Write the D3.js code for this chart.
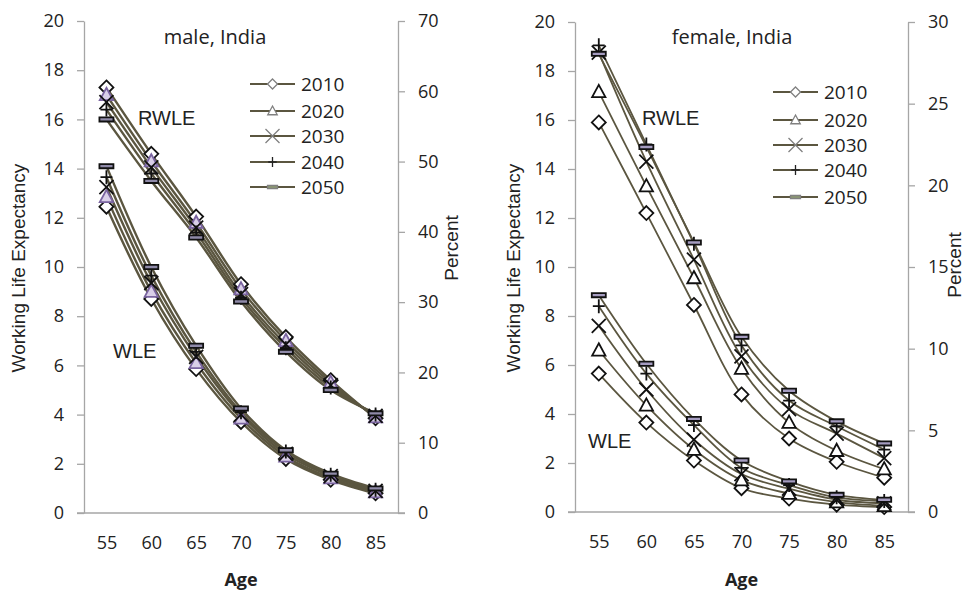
<!DOCTYPE html>
<html>
<head>
<meta charset="utf-8">
<script src="https://cdn.jsdelivr.net/npm/d3@7"></script>
<style>
  body { margin: 0; background: #fff; }
  svg text { font-family: "Open Sans", sans-serif; fill: #222; }
  .arial { font-family: "Liberation Sans", Arial, sans-serif !important; }
</style>
</head>
<body>
<div id="chart"></div>
<script>
// categories
var ages = [55, 60, 65, 70, 75, 80, 85];
var years = ["2010", "2020", "2030", "2040", "2050"];

// male, India (one row per year)
var maleRWLE = [
  [17.3, 14.6, 12.05, 9.3, 7.15, 5.4, 3.85],
  [17.0, 14.3, 11.8, 9.1, 7.0, 5.3, 3.9],
  [16.7, 14.05, 11.6, 8.9, 6.85, 5.2, 3.95],
  [16.4, 13.8, 11.4, 8.75, 6.7, 5.1, 4.0],
  [16.0, 13.5, 11.2, 8.6, 6.55, 5.0, 4.05]
];
var maleWLE = [
  [12.45, 8.7, 5.85, 3.7, 2.2, 1.35, 0.8],
  [12.85, 9.0, 6.1, 3.85, 2.3, 1.42, 0.85],
  [13.25, 9.35, 6.35, 4.0, 2.4, 1.5, 0.9],
  [13.65, 9.65, 6.55, 4.1, 2.5, 1.55, 0.95],
  [14.1, 10.0, 6.8, 4.25, 2.55, 1.6, 1.0]
];

// female, India
var femaleRWLE = [
  [15.9, 12.2, 8.45, 4.8, 3.0, 2.05, 1.4],
  [17.15, 13.3, 9.55, 5.85, 3.65, 2.5, 1.75],
  [18.75, 14.3, 10.3, 6.35, 4.2, 3.2, 2.2],
  [19.05, 15.0, 10.95, 6.8, 4.55, 3.5, 2.55],
  [18.7, 14.9, 11.0, 7.15, 4.95, 3.7, 2.8]
];
var femaleWLE = [
  [5.65, 3.65, 2.1, 0.97, 0.55, 0.3, 0.2],
  [6.6, 4.35, 2.55, 1.3, 0.75, 0.4, 0.25],
  [7.6, 5.0, 2.95, 1.55, 0.95, 0.5, 0.35],
  [8.4, 5.65, 3.55, 1.8, 1.1, 0.6, 0.45],
  [8.85, 6.05, 3.8, 2.1, 1.25, 0.7, 0.5]
];

var leftTicks = [0, 2, 4, 6, 8, 10, 12, 14, 16, 18, 20];
var maleRightTicks = [0, 10, 20, 30, 40, 50, 60, 70];
var femaleRightTicks = [0, 5, 10, 15, 20, 25, 30];

var W = 967, H = 590;
var lineColor = "#5b5640";
var axisColor = "#a6a6a6";

var svg = d3.select("#chart").append("svg")
    .attr("width", W)
    .attr("height", H);

// marker shapes, keyed by series index
function markerPath(i, s) {
  if (i === 0) return `M0,${-s}L${s},0L0,${s}L${-s},0Z`;
  if (i === 1) return `M0,${-s}L${s * 0.95},${s * 0.75}L${-s * 0.95},${s * 0.75}Z`;
  if (i === 2) return `M${-s},${-s}L${s},${s}M${-s},${s}L${s},${-s}`;
  if (i === 3) return `M${-s * 0.85},0L${s * 0.85},0M0,${-s}L0,${s}`;
  return `M${-s},${-s * 0.3}L${s},${-s * 0.3}L${s},${s * 0.3}L${-s},${s * 0.3}Z`;
}

function drawPanel(cfg) {
  var x = d3.scalePoint().domain(ages).range([cfg.x0, cfg.x1]).padding(0.5);
  var y = d3.scaleLinear().domain([0, 20]).range([cfg.yb, cfg.yt]);
  var y2 = d3.scaleLinear().domain([0, cfg.rightMax]).range([cfg.yb, cfg.yt]);

  var g = svg.append("g");

  // left axis
  var ax = g.append("g")
      .attr("transform", `translate(${cfg.x0},0)`)
      .call(d3.axisLeft(y).tickValues(leftTicks).tickSize(7).tickSizeOuter(0).tickPadding(13));
  // right axis
  var ax2 = g.append("g")
      .attr("transform", `translate(${cfg.x1},0)`)
      .call(d3.axisRight(y2).tickValues(cfg.rightTicks).tickSize(7).tickSizeOuter(0).tickPadding(13));
  // bottom axis
  var ax3 = g.append("g")
      .attr("transform", `translate(0,${cfg.yb})`)
      .call(d3.axisBottom(x).tickSize(0).tickSizeOuter(0).tickPadding(23));

  [ax, ax2, ax3].forEach(a => {
    a.select(".domain").attr("stroke", axisColor).attr("stroke-width", 1.3);
    a.selectAll(".tick line").attr("stroke", axisColor).attr("stroke-width", 1.3);
    a.selectAll(".tick text").style("font-size", "18px").attr("fill", "#222");
  });
  ax3.select(".domain").attr("d", `M${cfg.x0 - 7},0H${cfg.x1 + 7}`);

  var line = d3.line()
      .x((d, i) => x(ages[i]))
      .y(d => y(d))
      .curve(d3.curveCatmullRom.alpha(0.5));

  [cfg.wle, cfg.rwle].forEach(group => {
    group.forEach((vals, si) => {
      g.append("path")
          .datum(vals)
          .attr("d", line)
          .attr("fill", "none")
          .attr("stroke", lineColor)
          .attr("stroke-width", cfg.lw);
    });
  });

  [cfg.wle, cfg.rwle].forEach(group => {
    group.forEach((vals, si) => {
      g.selectAll(null)
          .data(vals)
          .enter().append("path")
          .attr("transform", (d, i) => `translate(${x(ages[i])},${y(d)})`)
          .attr("d", markerPath(si, cfg.ms))
          .attr("fill", si === 4 ? cfg.dashFill : (si === 1 ? cfg.triFill : "#fff"))
          .attr("fill-opacity", si === 2 || si === 3 ? 0 : 1)
          .attr("stroke", si === 1 ? cfg.triStroke : "#111")
          .attr("stroke-width", 1.8);
    });
  });

  // legend
  var leg = g.append("g");
  years.forEach((yr, i) => {
    var ly = cfg.legY[i];
    leg.append("line")
        .attr("x1", cfg.legX).attr("x2", cfg.legX + 45)
        .attr("y1", ly).attr("y2", ly)
        .attr("stroke", lineColor).attr("stroke-width", 2.2);
    leg.append("path")
        .attr("transform", `translate(${cfg.legX + 22.5},${ly})`)
        .attr("d", markerPath(i, i === 2 ? 7 : 5))
        .attr("fill", i === 4 ? "#8d9a70" : "#fff")
        .attr("fill-opacity", i === 2 || i === 3 ? 0 : 1)
        .attr("stroke", i === 3 ? "#222" : "#808080")
        .attr("stroke-width", 1.3);
    leg.append("text")
        .attr("x", cfg.legX + 51).attr("y", ly)
        .attr("dy", "0.35em")
        .style("font-size", "19px")
        .text(yr);
  });

  // titles and labels
  g.append("text")
      .attr("x", cfg.titleX).attr("y", 44)
      .attr("text-anchor", "middle")
      .style("font-size", "20px")
      .text(cfg.title);

  g.append("text").attr("class", "arial")
      .attr("x", cfg.rwleX).attr("y", cfg.rwleY)
      .style("font-size", "20px")
      .text("RWLE");
  g.append("text").attr("class", "arial")
      .attr("x", cfg.wleX).attr("y", cfg.wleY)
      .style("font-size", "20px")
      .text("WLE");

  g.append("text").attr("class", "arial")
      .attr("transform", `translate(${cfg.ytX},${cfg.ytY}) rotate(-90)`)
      .attr("text-anchor", "middle")
      .style("font-size", "19px")
      .text("Working Life Expectancy");
  g.append("text").attr("class", "arial")
      .attr("transform", `translate(${cfg.pctX},${cfg.pctY}) rotate(-90)`)
      .attr("text-anchor", "middle")
      .style("font-size", "19px")
      .text("Percent");

  g.append("text")
      .attr("x", (cfg.x0 + cfg.x1) / 2).attr("y", 586)
      .attr("text-anchor", "middle")
      .style("font-size", "18px")
      .style("font-weight", "bold")
      .text("Age");
}

drawPanel({
  x0: 84, x1: 398, yt: 21, yb: 513,
  rightMax: 70, rightTicks: maleRightTicks,
  rwle: maleRWLE, wle: maleWLE,
  lw: 2.4, ms: 7,
  dashFill: "#8f8aa8", triFill: "#d9cfe8", triStroke: "#7a64a0",
  legX: 250, legY: [84, 111, 136, 162, 187],
  title: "male, India", titleX: 215,
  rwleX: 138, rwleY: 125, wleX: 113, wleY: 358,
  ytX: 25, ytY: 268, pctX: 458, pctY: 248
});

drawPanel({
  x0: 575, x1: 908, yt: 22, yb: 512,
  rightMax: 30, rightTicks: femaleRightTicks,
  rwle: femaleRWLE, wle: femaleWLE,
  lw: 1.8, ms: 7,
  dashFill: "#a59cc0", triFill: "#fff", triStroke: "#111",
  legX: 773, legY: [92, 120, 145, 170, 197],
  title: "female, India", titleX: 732,
  rwleX: 642, rwleY: 125, wleX: 588, wleY: 448,
  ytX: 520, ytY: 268, pctX: 961, pctY: 265
});
</script>
</body>
</html>
